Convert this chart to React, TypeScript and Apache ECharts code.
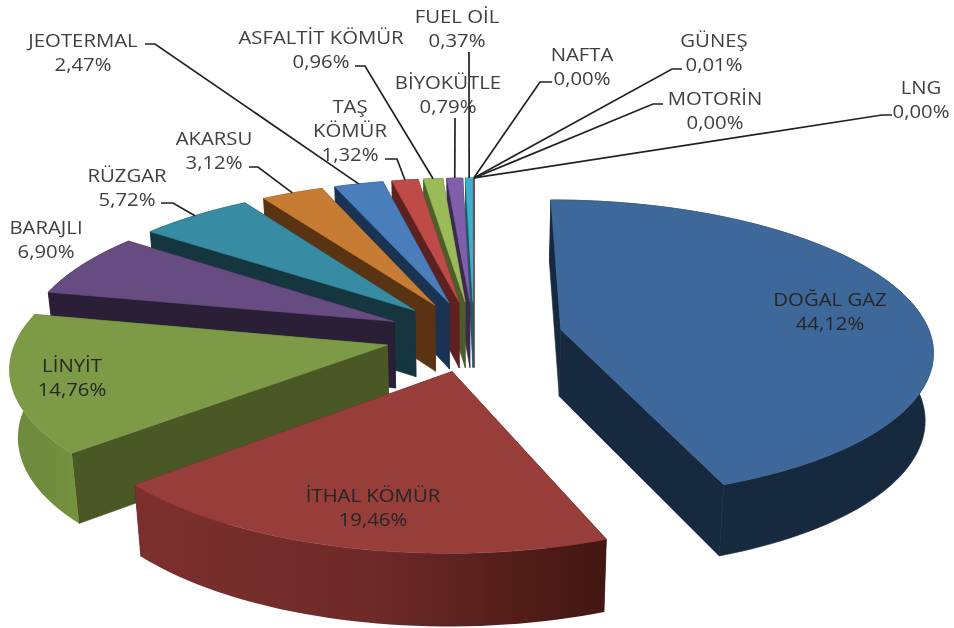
import React, { useEffect, useRef } from "react";
import * as echarts from "echarts";

const categories = ["DOĞAL GAZ", "İTHAL KÖMÜR", "LİNYİT", "BARAJLI", "RÜZGAR", "AKARSU", "JEOTERMAL", "TAŞ\nKÖMÜR", "ASFALTİT KÖMÜR", "BİYOKÜTLE", "FUEL OİL", "NAFTA", "GÜNEŞ", "MOTORİN", "LNG"];
const shares = [44.12, 19.46, 14.76, 6.9, 5.72, 3.12, 2.47, 1.32, 0.96, 0.79, 0.37, 0.0, 0.01, 0.0, 0.0];

const topColors = ["#3d6899", "#973d3a", "#7d9a46", "#664c80", "#378ba3", "#c77c33", "#4a7ebb", "#be4b48", "#9bbb59", "#7f5fa9", "#3cb0cc", "#3d6899", "#973d3a", "#7d9a46", "#664c80"];
const wallColors = ["#17293f", "#5e2422", "#4a5826", "#2a1f36", "#15363f", "#5a3412", "#1a3353", "#5c2120", "#4e5e2a", "#3a2a50", "#1d5868", "#17293f", "#5e2422", "#4a5826", "#2a1f36"];
const rimGradients: Record<number, string[]> = {
  1: ["#7c302d", "#6e2a28", "#421611"],
  2: ["#6f8b3e", "#6f8b3e", "#76933f"],
};

// label block centres [x, y], leader start and elbow, in pixels
const labelCentres = [[830, 311], [373, 507], [72, 377], [46, 239], [127, 187], [214, 150], [83, 52], [350, 130], [321, 49], [448, 94], [457, 28], [582, 66], [714, 52], [715, 110], [921, 99]];
const leaders: (number[][] | null)[] = [null, null, null, null, [[161, 203], [173, 203]], [[249, 167], [258, 167]], [[145, 44], [155, 44]], [[385, 159], [397, 159]], [[355, 66], [365, 66]], [[455, 118]], [[469, 52]], [[552, 82], [540, 82]], [[682, 69], [672, 69]], [[663, 104], [653, 104]], [[892, 115], [882, 115]]];

const CX = 474, CY = 336, SX = 370, SY = 148, PERSP = 0.13, EXPLODE = 0.24, DEPTH = 67, BOTTOM_X = 0.982;

function project(X: number, Y: number, down: boolean): number[] {
  const k = 1 / (1 - PERSP * Y);
  const x = SX * X * k;
  const y = CY + SY * Y * k;
  return down ? [CX + x * BOTTOM_X, y + DEPTH * Math.sqrt(k)] : [CX + x, y];
}

const cumulative: number[] = [];
shares.reduce((sum, v, i) => ((cumulative[i] = sum), sum + v), 0);
const total = shares.reduce((a, b) => a + b, 0);

function geometry(i: number) {
  const a0 = (cumulative[i] / total) * Math.PI * 2;
  const a1 = ((cumulative[i] + shares[i]) / total) * Math.PI * 2;
  const mid = (a0 + a1) / 2;
  const ox = EXPLODE * Math.sin(mid);
  const oy = -EXPLODE * Math.cos(mid);
  const steps = Math.max(2, Math.ceil((a1 - a0) / 0.03));
  const rim: number[][] = [];
  for (let s = 0; s <= steps; s++) {
    const t = a0 + ((a1 - a0) * s) / steps;
    rim.push([ox + Math.sin(t), oy - Math.cos(t)]);
  }
  return { mid, ox, oy, rim };
}

const order = shares.map((_, i) => i).sort((p, q) => geometry(p).oy - geometry(q).oy);

function renderItem(params: any, api: any) {
  const i = api.value(0) as number;
  const { mid, ox, oy, rim } = geometry(i);
  const rank = order.indexOf(i) + 1;
  const children: any[] = [];
  const poly = (pts: number[][], fill: any, stroke: any, z2: number) => ({
    type: "polygon",
    silent: true,
    z2,
    shape: { points: pts },
    style: { fill, stroke, lineWidth: 0.6 },
  });

  if (api.value(1) > 0) {
    const first = rim[0];
    const last = rim[rim.length - 1];
    const wall = (a: number[], b: number[]) => [project(a[0], a[1], false), project(b[0], b[1], false), project(b[0], b[1], true), project(a[0], a[1], true)];
    const rimTop = rim.map((p) => project(p[0], p[1], false));
    const rimBottom = rim.map((p) => project(p[0], p[1], true)).reverse();
    const stops = rimGradients[i];
    const rimFill = stops
      ? new echarts.graphic.LinearGradient(0, 0, 1, 0, stops.map((color, n) => ({ offset: n / (stops.length - 1), color })))
      : wallColors[i];
    // back half: the rim lies behind the cut faces; front half: in front of them
    const rimLayer = oy < 0 ? 0 : 3;
    children.push(poly(rimTop.concat(rimBottom), rimFill, typeof rimFill === "string" ? rimFill : null, rank * 10 + rimLayer));
    children.push(poly(wall([ox, oy], first), wallColors[i], wallColors[i], rank * 10 + 1));
    children.push(poly(wall([ox, oy], last), wallColors[i], wallColors[i], rank * 10 + 2));
    children.push(poly([project(ox, oy, false)].concat(rimTop), topColors[i], topColors[i], rank * 10 + 5));
  }

  const text = `${categories[i]}\n${api.value(1).toFixed(2).replace(".", ",")}%`;
  children.push({
    type: "text",
    silent: true,
    z2: 500,
    x: labelCentres[i][0],
    y: labelCentres[i][1],
    scaleX: 1.13,
    style: {
      text,
      fill: i < 3 ? "#262626" : "#404040",
      font: '18px "Open Sans", "Noto Sans", sans-serif',
      align: "center",
      verticalAlign: "middle",
      lineHeight: 24,
    },
  });
  const lead = leaders[i];
  if (lead) {
    const end = project(ox + Math.sin(mid), oy - Math.cos(mid), false);
    children.push({
      type: "polyline",
      silent: true,
      z2: 400,
      shape: { points: lead.concat([end]) },
      style: { stroke: "#222222", lineWidth: 1.7, fill: null },
    });
  }
  return { type: "group", children };
}

export default function App() {
  const ref = useRef<HTMLDivElement>(null);
  useEffect(() => {
    document.body.style.margin = "0";
    document.body.style.background = "#fff";
    const chart = echarts.init(ref.current!, null, { renderer: "svg" });
    chart.setOption({
      animation: false,
      backgroundColor: "#ffffff",
      series: [
        {
          type: "custom",
          coordinateSystem: "none",
          clip: false,
          renderItem,
          data: shares.map((v, i) => [i, v]),
        },
      ],
    });
    return () => chart.dispose();
  }, []);
  return <div ref={ref} style={{ width: 954, height: 628, filter: "blur(0.5px)" }} />;
}
